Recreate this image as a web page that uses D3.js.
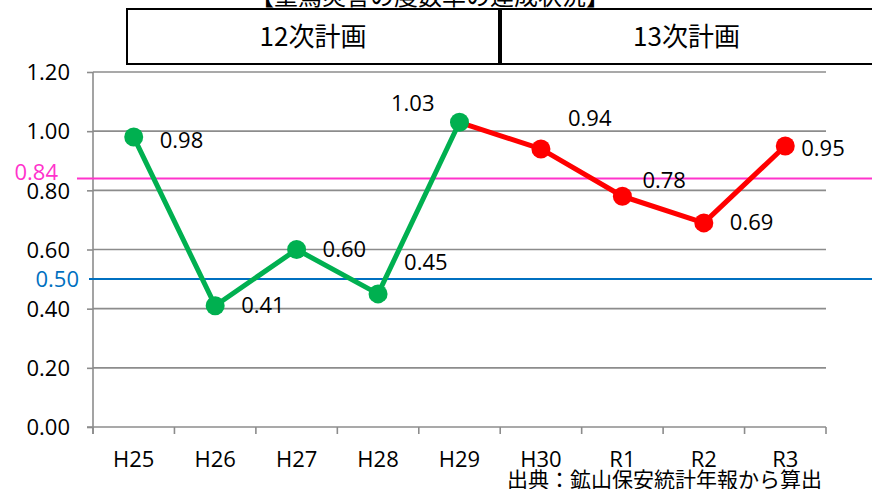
<!DOCTYPE html>
<html>
<head>
<meta charset="utf-8">
<script src="https://cdn.jsdelivr.net/npm/d3@7"></script>
<style>
  html, body { margin: 0; padding: 0; background: #fff; }
  svg { display: block; }
  text { font-family: "Open Sans", "Noto Sans CJK JP", sans-serif; }
  .jp { font-family: "Noto Sans CJK JP", sans-serif; }
</style>
</head>
<body>
<svg id="chart" width="872" height="489"></svg>
<script>
// Fiscal years on the category axis
const years = ["H25", "H26", "H27", "H28", "H29", "H30", "R1", "R2", "R3"];
// Frequency rate of serious accidents per year
const rates = [0.98, 0.41, 0.60, 0.45, 1.03, 0.94, 0.78, 0.69, 0.95];
// Which plan each year belongs to
const planOf = ["12", "12", "12", "12", "12", "13", "13", "13", "13"];
// Plan headers
const plans = ["12次計画", "13次計画"];
// Y axis ticks
const yTicks = [0.00, 0.20, 0.40, 0.60, 0.80, 1.00, 1.20];
// Target lines
const targets = [0.84, 0.50];

const title = "【重篤災害の度数率の達成状況】";
const source = "出典：鉱山保安統計年報から算出";

// Label placement relative to each point: [dx, dy, anchor]
const labelPos = [
  [26, 3, "start"], [26, 0, "start"], [26, 0, "start"], [26, -32, "start"],
  [-25, -19, "end"], [27, -31, "start"], [20, -16, "start"], [26, -1, "start"],
  [16, 2, "start"]
];

const svg = d3.select("#chart");
const plotL = 93, plotR = 826, plotT = 72, plotB = 427;
const numFont = 22;

const x = d3.scaleBand().domain(years).range([plotL, plotR]);
const y = d3.scaleLinear().domain([0, 1.2]).range([plotB, plotT]);

const axisGray = "#8c8c8c";

// Gridlines
svg.append("g")
  .selectAll("line")
  .data(yTicks.slice(1))
  .join("line")
  .attr("x1", plotL).attr("x2", plotR)
  .attr("y1", d => y(d)).attr("y2", d => y(d))
  .attr("stroke", axisGray).attr("stroke-width", 1.6);

// Y axis
const yAxis = svg.append("g")
  .attr("transform", `translate(${plotL},0)`)
  .call(d3.axisLeft(y).tickValues(yTicks).tickFormat(d3.format(".2f")).tickSize(6).tickPadding(17));
yAxis.select(".domain").attr("stroke", axisGray).attr("stroke-width", 1.6)
  .attr("d", `M0,${plotT}V${plotB + 7}`);
yAxis.selectAll(".tick line").attr("stroke", axisGray).attr("stroke-width", 1.6);
yAxis.selectAll(".tick text").attr("font-size", numFont).attr("fill", "#000")
  .attr("font-family", "Open Sans").attr("dy", "0.35em");

// X axis
const xAxis = svg.append("g")
  .attr("transform", `translate(0,${plotB})`)
  .call(d3.axisBottom(x).tickSize(0).tickPadding(24));
xAxis.select(".domain").remove();
xAxis.selectAll(".tick text").attr("font-size", numFont).attr("fill", "#000")
  .attr("font-family", "Open Sans");
// boundary ticks
const bounds = years.map(d => x(d)).concat([plotR]);
svg.append("g").selectAll("line").data(bounds).join("line")
  .attr("x1", d => d).attr("x2", d => d)
  .attr("y1", plotB).attr("y2", plotB + 7)
  .attr("stroke", axisGray).attr("stroke-width", 1.6);
svg.append("line")
  .attr("x1", plotL - 6).attr("x2", plotR)
  .attr("y1", plotB).attr("y2", plotB)
  .attr("stroke", axisGray).attr("stroke-width", 1.6);

// Target lines
const targetColors = ["#ff33cc", "#0070c0"];
const targetStart = [77, 89];
const targetLabelX = [58, 79];
const targetLabelDy = [-6, 0];
targets.forEach((t, i) => {
  svg.append("line")
    .attr("x1", targetStart[i]).attr("x2", 872)
    .attr("y1", y(t)).attr("y2", y(t))
    .attr("stroke", targetColors[i]).attr("stroke-width", 2);
  svg.append("text")
    .attr("x", targetLabelX[i]).attr("y", y(t) + targetLabelDy[i])
    .attr("dy", "0.35em")
    .attr("text-anchor", "end")
    .attr("font-size", numFont)
    .attr("fill", targetColors[i])
    .text(d3.format(".2f")(t));
});

// Lines per plan
const cx = i => x(years[i]) + x.bandwidth() / 2;
const line = d3.line().x(d => cx(d)).y(d => y(rates[d]));
const idx12 = years.map((_, i) => i).filter(i => planOf[i] === "12");
const idx13 = [idx12[idx12.length - 1]].concat(years.map((_, i) => i).filter(i => planOf[i] === "13"));
const colors = { "12": "#00b050", "13": "#ff0000" };

svg.append("path").datum(idx13).attr("d", line)
  .attr("fill", "none").attr("stroke", colors["13"]).attr("stroke-width", 5).attr("stroke-linejoin", "round");
svg.append("path").datum(idx12).attr("d", line)
  .attr("fill", "none").attr("stroke", colors["12"]).attr("stroke-width", 5).attr("stroke-linejoin", "round");

// Markers
svg.append("g").selectAll("circle")
  .data(rates)
  .join("circle")
  .attr("cx", (d, i) => cx(i))
  .attr("cy", d => y(d))
  .attr("r", 9.5)
  .attr("fill", (d, i) => colors[planOf[i]]);

// Value labels
svg.append("g").selectAll("text")
  .data(rates)
  .join("text")
  .attr("x", (d, i) => cx(i) + labelPos[i][0])
  .attr("y", (d, i) => y(d) + labelPos[i][1])
  .attr("dy", "0.35em")
  .attr("text-anchor", (d, i) => labelPos[i][2])
  .attr("font-size", numFont)
  .attr("fill", "#000")
  .text(d => d3.format(".2f")(d));

// Plan header boxes
const boxes = [[127, 499], [501, 874]];
plans.forEach((p, i) => {
  svg.append("rect")
    .attr("x", boxes[i][0]).attr("y", 9)
    .attr("width", boxes[i][1] - boxes[i][0]).attr("height", 55)
    .attr("fill", "#fff").attr("stroke", "#000").attr("stroke-width", 2);
  svg.append("text")
    .attr("class", "jp")
    .attr("x", (boxes[i][0] + Math.min(boxes[i][1], 872)) / 2)
    .attr("y", 37).attr("dy", "0.35em")
    .attr("text-anchor", "middle")
    .attr("font-size", 26)
    .text(p);
});

// Title (partially above the top edge)
svg.append("text")
  .attr("class", "jp")
  .attr("x", 430).attr("y", 5)
  .attr("text-anchor", "middle")
  .attr("font-size", 24)
  .text(title);

// Source note
svg.append("text")
  .attr("class", "jp")
  .attr("x", 822).attr("y", 487)
  .attr("text-anchor", "end")
  .attr("font-size", 21)
  .text(source);
</script>
</body>
</html>
